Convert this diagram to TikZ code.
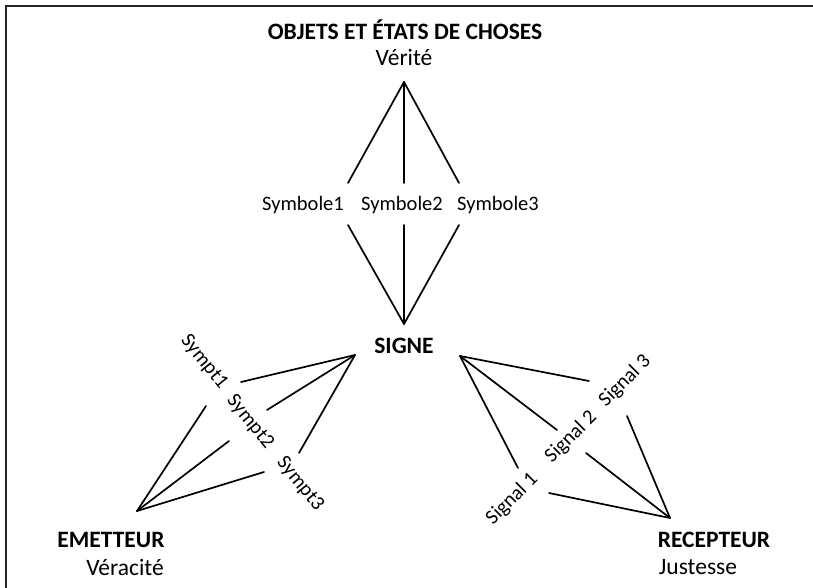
\documentclass[tikz,border=0pt]{standalone}
\usepackage{fontspec}
\setmainfont{Carlito}
\begin{document}
\begin{tikzpicture}[x=1pt,y=-1pt,
  lbl/.style={inner sep=0pt,font=\fontsize{20.5}{24}\selectfont},
  sub/.style={inner sep=0pt,font=\fontsize{23.5}{28}\selectfont},
  hd/.style={inner sep=0pt,font=\fontsize{23.5}{28}\selectfont\bfseries},
  ln/.style={line width=1.7pt,line cap=round}]
\useasboundingbox (0,0) rectangle (813,588);
\draw[line width=1.5pt,black!85] (6,600) -- (6,6) -- (820,6);
% texts
\node[hd]  (title) at (405,30) {OBJETS ET ÉTATS DE CHOSES};
\node[sub] (verite) at (404,58) {Vérité};
\node[lbl] (sym1) at (303,205) {Symbole1};
\node[lbl] (sym2) at (402,205) {Symbole2};
\node[lbl] (sym3) at (498,205) {Symbole3};
\node[hd]  (signe) at (404,346) {SIGNE};
\node[lbl,rotate=-51] (sympt1) at (204,362) {Sympt1};
\node[lbl,rotate=-51] (sympt2) at (250,422) {Sympt2};
\node[lbl,rotate=-51] (sympt3) at (300,484) {Sympt3};
\node[lbl,rotate=45] (sig1) at (512,499) {Signal 1};
\node[lbl,rotate=45] (sig2) at (571,437) {Signal 2};
\node[lbl,rotate=45] (sig3) at (625,381) {Signal 3};
\node[hd]  (emet) at (111,540) {EMETTEUR};
\node[sub] (verac) at (125,567) {Véracité};
\node[hd]  (recep) at (714,540) {RECEPTEUR};
\node[sub] (just) at (698,567) {Justesse};
% apexes
\coordinate (top) at (404,82);
\coordinate (sgn) at (404,324);
\coordinate (sl) at (355,355);
\coordinate (sr) at (460,356);
\coordinate (em) at (137,511);
\coordinate (rc) at (670,518);
% line ends
\coordinate (a1) at (348,183); \coordinate (a2) at (404,183); \coordinate (a3) at (459,183);
\coordinate (b1) at (348,225); \coordinate (b2) at (404,225); \coordinate (b3) at (459,225);
\coordinate (c1) at (241,382); \coordinate (c2) at (267,410); \coordinate (c3) at (299,453);
\coordinate (d1) at (206,406); \coordinate (d2) at (229,441); \coordinate (d3) at (264,472);
\coordinate (e3) at (589,381); \coordinate (e2) at (557,430); \coordinate (e1) at (518,468);
\coordinate (f3) at (627,416); \coordinate (f2) at (586,453); \coordinate (f1) at (549,493);
\foreach \p in {a1,a2,a3} \draw[ln] (top) -- (\p);
\foreach \p in {b1,b2,b3} \draw[ln] (sgn) -- (\p);
\foreach \p in {c1,c2,c3} \draw[ln] (sl) -- (\p);
\foreach \p in {d1,d2,d3} \draw[ln] (em) -- (\p);
\foreach \p in {e1,e2,e3} \draw[ln] (sr) -- (\p);
\foreach \p in {f1,f2,f3} \draw[ln] (rc) -- (\p);
\end{tikzpicture}
\end{document}
